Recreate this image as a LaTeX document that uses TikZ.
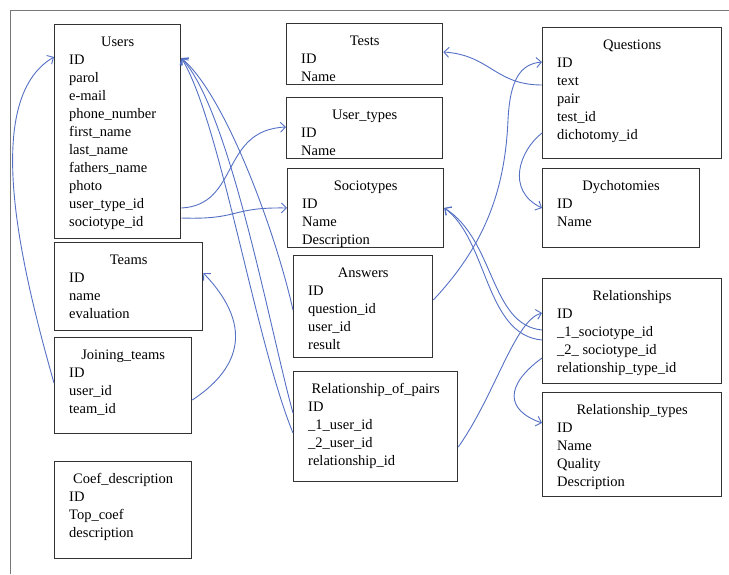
\documentclass[tikz,border=0pt]{standalone}
\usepackage{fontspec}
\setmainfont{Liberation Serif}
\usepackage{tikz}
\usetikzlibrary{arrows.meta}
\definecolor{fkblue}{HTML}{5470C4}
\definecolor{boxline}{HTML}{333333}
\definecolor{pageline}{HTML}{777777}

\begin{document}
\begin{tikzpicture}[
  x=1pt, y=-1pt,
  every node/.style={font=\fontsize{14.5}{18}\selectfont},
  tbl/.style={
    draw=boxline, line width=1.3pt, anchor=north west,
    inner sep=0pt, fill=white,
  },
  ttl/.style={anchor=base, inner sep=0pt},
  fld/.style={anchor=north west, inner sep=0pt, align=left},
  fk/.style={-{Straight Barb[length=5pt,width=10pt]}, line width=0.9pt, fkblue},
]
  \useasboundingbox (0,0) rectangle (729,574);

  % page edge
  \draw[pageline, line width=0.8pt] (729,10) -- (10,10) -- (10,574);

  % Tables, left column
  \node[tbl, minimum width=126pt, minimum height=214pt] (users) at (54,24) {};
  \node[ttl] at ([shift={(0,22)}]users.north) {Users};
  \node[fld] at ([shift={(15,30.5)}]users.north west)
    {ID\\parol\\e-mail\\phone\_number\\first\_name\\last\_name\\fathers\_name\\photo\\user\_type\_id\\sociotype\_id};

  \node[tbl, minimum width=148pt, minimum height=88pt] (teams) at (54,242) {};
  \node[ttl] at ([shift={(0,22)}]teams.north) {Teams};
  \node[fld] at ([shift={(15,30.5)}]teams.north west) {ID\\name\\evaluation};

  \node[tbl, minimum width=137pt, minimum height=96pt] (joining) at (54,337) {};
  \node[ttl] at ([shift={(0,22)}]joining.north) {Joining\_teams};
  \node[fld] at ([shift={(15,30.5)}]joining.north west) {ID\\user\_id\\team\_id};

  \node[tbl, minimum width=137pt, minimum height=97pt] (coef) at (54,461) {};
  \node[ttl] at ([shift={(0,22)}]coef.north) {Coef\_description};
  \node[fld] at ([shift={(15,30.5)}]coef.north west) {ID\\Top\_coef\\description};

  % Tables, middle column
  \node[tbl, minimum width=156pt, minimum height=61pt] (tests) at (286,23) {};
  \node[ttl] at ([shift={(0,22)}]tests.north) {Tests};
  \node[fld] at ([shift={(15,30.5)}]tests.north west) {ID\\Name};

  \node[tbl, minimum width=156pt, minimum height=61pt] (usertypes) at (286,97) {};
  \node[ttl] at ([shift={(0,22)}]usertypes.north) {User\_types};
  \node[fld] at ([shift={(15,30.5)}]usertypes.north west) {ID\\Name};

  \node[tbl, minimum width=156pt, minimum height=79pt] (sociotypes) at (287,168) {};
  \node[ttl] at ([shift={(0,22)}]sociotypes.north) {Sociotypes};
  \node[fld] at ([shift={(15,30.5)}]sociotypes.north west) {ID\\Name\\Description};

  \node[tbl, minimum width=139pt, minimum height=102pt] (answers) at (293,255) {};
  \node[ttl] at ([shift={(0,22)}]answers.north) {Answers};
  \node[fld] at ([shift={(15,30.5)}]answers.north west) {ID\\question\_id\\user\_id\\result};

  \node[tbl, minimum width=164pt, minimum height=110pt] (pairs) at (293,371) {};
  \node[ttl] at ([shift={(0,22)}]pairs.north) {Relationship\_of\_pairs};
  \node[fld] at ([shift={(15,30.5)}]pairs.north west)
    {ID\\\_1\_user\_id\\\_2\_user\_id\\relationship\_id};

  % Tables, right column
  \node[tbl, minimum width=179pt, minimum height=131pt] (questions) at (542,27) {};
  \node[ttl] at ([shift={(0,22)}]questions.north) {Questions};
  \node[fld] at ([shift={(15,30.5)}]questions.north west)
    {ID\\text\\pair\\test\_id\\dichotomy\_id};

  \node[tbl, minimum width=157pt, minimum height=79pt] (dychotomies) at (542,168) {};
  \node[ttl] at ([shift={(0,22)}]dychotomies.north) {Dychotomies};
  \node[fld] at ([shift={(15,30.5)}]dychotomies.north west) {ID\\Name};

  \node[tbl, minimum width=179pt, minimum height=105pt] (relationships) at (542,278) {};
  \node[ttl] at ([shift={(0,22)}]relationships.north) {Relationships};
  \node[fld] at ([shift={(15,30.5)}]relationships.north west)
    {ID\\\_1\_sociotype\_id\\\_2\_ sociotype\_id\\relationship\_type\_id};

  \node[tbl, minimum width=179pt, minimum height=104pt] (reltypes) at (542,392) {};
  \node[ttl] at ([shift={(0,22)}]reltypes.north) {Relationship\_types};
  \node[fld] at ([shift={(15,30.5)}]reltypes.north west) {ID\\Name\\Quality\\Description};

  % Foreign keys
  \draw[fk] ([shift={(0,46)}]joining.north west)
    .. controls (22,270) and (-20,100) .. ([shift={(0,33)}]users.north west);
  \draw[fk] ([shift={(0,63)}]joining.north east)
    .. controls (235,372) and (258,330) .. ([shift={(0,31)}]teams.north east);
  \draw[fk] ([shift={(0,184)}]users.north east)
    .. controls (240,205) and (220,130) .. ([shift={(0,30)}]usertypes.north west);
  \draw[fk] ([shift={(0,194)}]users.north east)
    .. controls (240,220) and (230,207) .. ([shift={(0,40)}]sociotypes.north west);

  \draw[fk] ([shift={(0,55)}]answers.north west)
    .. controls (275,230) and (225,95) .. ([shift={(0,34)}]users.north east);
  \draw[fk] ([shift={(0,42)}]pairs.north west)
    .. controls (270,330) and (230,110) .. ([shift={(0,34)}]users.north east);
  \draw[fk] ([shift={(0,62)}]pairs.north west)
    .. controls (255,340) and (220,120) .. ([shift={(0,34)}]users.north east);

  \draw[fk] ([shift={(0,58)}]questions.north west)
    .. controls (495,85) and (490,55) .. ([shift={(0,29)}]tests.north east);
  \draw[fk] ([shift={(0,45)}]answers.north east)
    .. controls (485,245) and (505,190) .. (508,120)
    .. controls (510,80) and (520,64) .. ([shift={(0,35)}]questions.north west);
  \draw[fk] ([shift={(0,106)}]questions.north west)
    .. controls (520,150) and (505,190) .. ([shift={(0,40)}]dychotomies.north west);

  \draw[fk] ([shift={(0,52)}]relationships.north west)
    .. controls (490,325) and (495,240) .. ([shift={(0,40)}]sociotypes.north east);
  \draw[fk] ([shift={(0,62)}]relationships.north west)
    .. controls (485,335) and (488,240) .. ([shift={(0,40)}]sociotypes.north east);
  \draw[fk] ([shift={(0,76)}]pairs.north east)
    .. controls (495,395) and (515,320) .. ([shift={(0,35)}]relationships.north west);
  \draw[fk] ([shift={(0,80)}]relationships.north west)
    .. controls (505,385) and (505,410) .. ([shift={(0,31)}]reltypes.north west);
\end{tikzpicture}
\end{document}
